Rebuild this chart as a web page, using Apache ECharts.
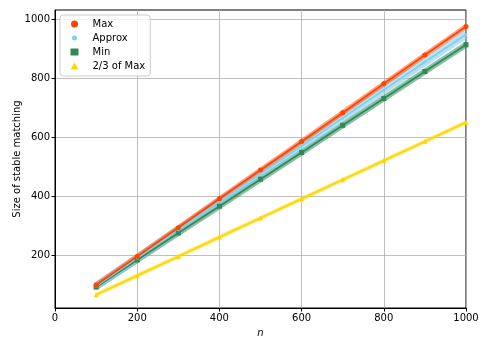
<!DOCTYPE html>
<html>
<head>
    <meta charset="utf-8">
    <title>Stable matching</title>
    <script src="https://cdn.jsdelivr.net/npm/echarts@6/dist/echarts.min.js"></script>
</head>
<body style="margin:0">
    <div id="main" style="width: 490px;height:350px;"></div>
    <script type="text/javascript">
        var nValues = [100, 200, 300, 400, 500, 600, 700, 800, 900, 1000];
        var maxValues = [98, 195, 293, 391, 489, 586, 684, 782, 880, 977];
        var approxValues = [95, 190, 286, 381, 476, 571, 666, 761, 856, 950];
        var minValues = [91, 183, 275, 366, 458, 549, 641, 732, 824, 915];
        var twoThirdsValues = [65, 130, 195, 261, 326, 391, 456, 521, 586, 651];
        var yTicks = [200, 400, 600, 800, 1000];

        var font = 'DejaVu Sans';
        var myChart = echarts.init(document.getElementById('main'));

        function pairs(ys) {
            var res = [];
            for (var i = 0; i < nValues.length; i++) {
                res.push([nValues[i], ys[i]]);
            }
            return res;
        }

        // wide translucent band drawn under each line
        function band(ys, color, width, opacity) {
            return {
                type: 'line',
                data: pairs(ys),
                showSymbol: false,
                silent: true,
                lineStyle: { color: color, width: width, opacity: opacity },
                z: 1
            };
        }

        function line(name, ys, color, symbol, size) {
            return {
                name: name,
                type: 'line',
                data: pairs(ys),
                symbol: symbol,
                symbolSize: size,
                itemStyle: { color: color },
                lineStyle: { color: color, width: 1.8 },
                z: 3
            };
        }

        var plain = function (v) { return String(v); };

        var option = {
            animation: false,
            textStyle: { fontFamily: font },
            grid: {
                left: 55, right: 24, top: 10, bottom: 42,
                outerBoundsMode: 'none',
                show: true, borderColor: '#000', borderWidth: 1
            },
            legend: {
                orient: 'vertical',
                left: 60, top: 15,
                itemWidth: 8, itemHeight: 7, itemGap: 4,
                padding: [4, 5, 5, 10],
                borderColor: '#ccc', borderWidth: 1, borderRadius: 3,
                backgroundColor: 'rgba(255,255,255,0.8)',
                textStyle: { fontSize: 10, color: '#000', fontFamily: font, padding: [0, 0, 0, 9] },
                data: [
                    { name: 'Max', icon: 'circle' },
                    { name: 'Approx', icon: 'circle', itemStyle: { borderColor: '#fff', borderWidth: 2 } },
                    { name: 'Min', icon: 'rect' },
                    { name: '2/3 of Max', icon: 'triangle' }
                ]
            },
            xAxis: {
                type: 'value',
                min: 0, max: 1000, interval: 200,
                name: 'n',
                nameLocation: 'middle',
                nameGap: 20,
                nameTextStyle: { fontStyle: 'italic', fontSize: 10, color: '#000' },
                axisLine: { lineStyle: { color: '#000' } },
                axisTick: { show: true, length: 3.5, inside: false, lineStyle: { color: '#000' } },
                axisLabel: { fontSize: 10, color: '#000', margin: 5, formatter: plain },
                splitLine: { show: true, lineStyle: { color: '#b0b0b0', width: 0.8 } }
            },
            yAxis: {
                type: 'value',
                min: 20, max: 1033,
                name: 'Size of stable matching',
                nameLocation: 'middle',
                nameGap: 33,
                nameMoveOverlap: false,
                nameTextStyle: { fontSize: 10, color: '#000' },
                axisLine: { show: true, lineStyle: { color: '#000' } },
                axisTick: { show: true, length: 3.5, customValues: yTicks, lineStyle: { color: '#000' } },
                axisLabel: { fontSize: 10, color: '#000', margin: 5, customValues: yTicks, formatter: plain },
                splitLine: { show: true, lineStyle: { color: '#b0b0b0', width: 0.8 } }
            },
            series: [
                band(twoThirdsValues, '#ffd700', 4, 0.5),
                band(minValues, '#2e8b57', 6, 0.55),
                band(approxValues, '#87ceeb', 8, 0.6),
                band(maxValues, '#ff4500', 5, 0.5),
                line('2/3 of Max', twoThirdsValues, '#ffd700', 'triangle', 5),
                line('Min', minValues, '#2e8b57', 'rect', 5),
                line('Approx', approxValues, '#87ceeb', 'circle', 3),
                line('Max', maxValues, '#ff4500', 'circle', 5)
            ]
        };

        myChart.setOption(option);
    </script>
</body>
</html>
